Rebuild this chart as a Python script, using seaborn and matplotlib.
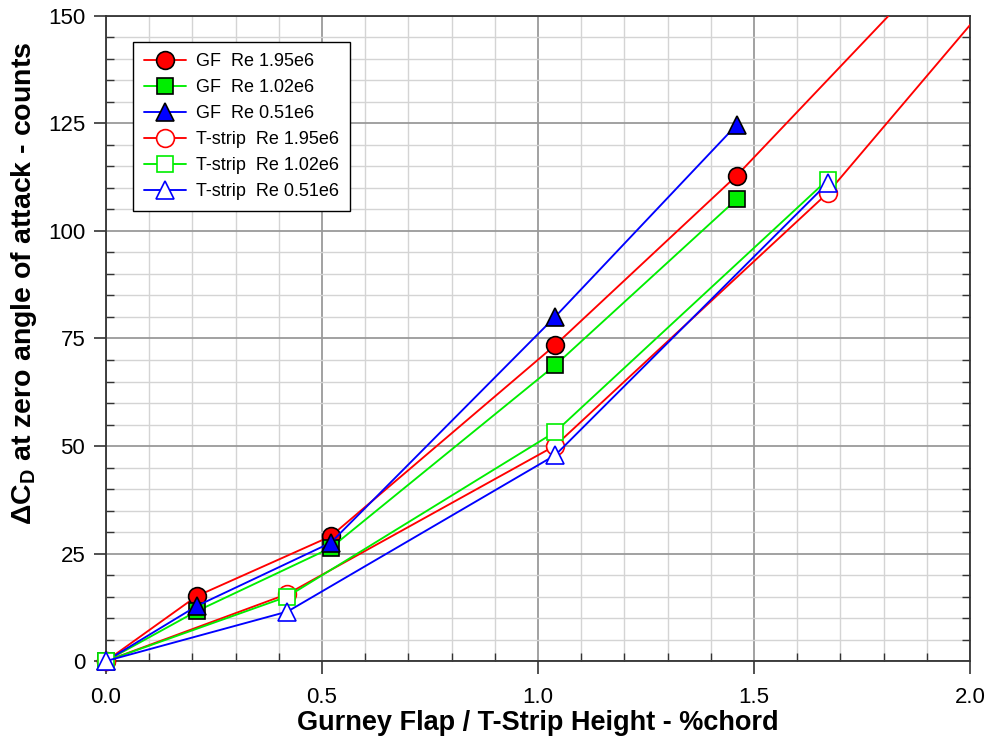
import numpy as np
import pandas as pd
import matplotlib
matplotlib.use("Agg")
import matplotlib.pyplot as plt
import seaborn as sns
from matplotlib.ticker import MultipleLocator, FormatStrFormatter

# Drag increment at zero angle of attack vs. device height
gf_height = [0.0, 0.21, 0.52, 1.04, 1.46]
ts_height = [0.0, 0.42, 1.04, 1.67]

gf_re195 = [0.0, 15.1, 29.0, 73.5, 112.9]
gf_re102 = [0.0, 11.6, 26.3, 68.8, 107.4]
gf_re051 = [0.0, 12.8, 27.5, 80.1, 124.7]

ts_re195 = [0.0, 15.6, 50.1, 108.8]
ts_re102 = [0.0, 15.0, 53.3, 111.9]
ts_re051 = [0.0, 11.5, 47.9, 111.1]

# Trend extensions of the Re 1.95e6 curves
gf_re195_ext_x = [1.46, 1.811]
gf_re195_ext_y = [112.9, 150.0]
ts_re195_ext_x = [1.67, 2.0]
ts_re195_ext_y = [108.8, 147.9]

labels = ["GF  Re 1.95e6", "GF  Re 1.02e6", "GF  Re 0.51e6",
          "T-strip  Re 1.95e6", "T-strip  Re 1.02e6", "T-strip  Re 0.51e6"]

sns.set_theme(style="white")
plt.rcParams["font.family"] = ["Liberation Sans", "DejaVu Sans"]
plt.rcParams["mathtext.fontset"] = "custom"
plt.rcParams["mathtext.rm"] = "Liberation Sans:bold"
plt.rcParams["mathtext.bf"] = "Liberation Sans:bold"
plt.rcParams["mathtext.it"] = "Liberation Sans:bold"
for key in ["text.color", "axes.labelcolor", "xtick.color", "ytick.color"]:
    plt.rcParams[key] = "black"

RED, GREEN, BLUE = "#ff0000", "#00ee00", "#0000ff"
LW = 1.35

fig = plt.figure(figsize=(9.92, 7.46), dpi=100)
ax = fig.add_axes([0.1069, 0.1139, 0.8710, 0.8647])

series = [
    (gf_height, gf_re195, RED, "o", RED, "black", 12.8, labels[0]),
    (gf_height, gf_re102, GREEN, "s", GREEN, "black", 11.8, labels[1]),
    (gf_height, gf_re051, BLUE, "^", BLUE, "black", 13.2, labels[2]),
    (ts_height, ts_re195, RED, "o", "white", RED, 12.8, labels[3]),
    (ts_height, ts_re102, GREEN, "s", "white", GREEN, 11.8, labels[4]),
    (ts_height, ts_re051, BLUE, "^", "white", BLUE, 13.2, labels[5]),
]

sns.lineplot(x=gf_re195_ext_x, y=gf_re195_ext_y, color=RED, lw=LW, ax=ax, zorder=3)
sns.lineplot(x=ts_re195_ext_x, y=ts_re195_ext_y, color=RED, lw=LW, ax=ax, zorder=3)

handles = []
for i, (xs, ys, col, mk, fc, ec, ms, lab) in enumerate(series):
    df = pd.DataFrame({"x": xs, "y": ys})
    sns.lineplot(data=df, x="x", y="y", color=col, lw=LW, marker=mk,
                 markersize=ms, markerfacecolor=fc, markeredgecolor=ec,
                 markeredgewidth=1.2, ax=ax, zorder=4 + i, clip_on=False)
    handles.append(ax.lines[-1])

ax.set_xlim(0, 2.0)
ax.set_ylim(0, 150)
ax.xaxis.set_major_locator(MultipleLocator(0.5))
ax.xaxis.set_minor_locator(MultipleLocator(0.1))
ax.yaxis.set_major_locator(MultipleLocator(25))
ax.yaxis.set_minor_locator(MultipleLocator(5))
ax.xaxis.set_major_formatter(FormatStrFormatter("%.1f"))

ax.grid(which="minor", color="#d4d4d4", lw=1.0, zorder=0)
ax.grid(which="major", color="#9a9a9a", lw=1.3, zorder=0)
ax.set_axisbelow(True)

for sp in ax.spines.values():
    sp.set_color("#333333")
    sp.set_linewidth(1.3)
    sp.set_visible(True)

ax.tick_params(which="major", direction="out", length=9, width=1.2,
               color="#333333", labelsize=16, pad=6,
               left=True, bottom=True, right=False, top=False)
ax.tick_params(which="minor", direction="in", length=6, width=1.0,
               color="#333333", left=True, bottom=True, right=True, top=False)
ax.tick_params(axis="x", which="major", pad=10)

ax.set_xlabel("Gurney Flap / T-Strip Height - %chord", fontsize=19.5,
              fontweight="bold", labelpad=1)
ax.set_ylabel(r"$\Delta$C$_\mathregular{D}$ at zero angle of attack - counts",
              fontsize=20.5, fontweight="bold")
ax.yaxis.set_label_coords(-0.078, 0.586)

leg = ax.legend(handles, labels, loc="upper left",
                bbox_to_anchor=(0.0313, 0.9597), borderaxespad=0,
                fontsize=13, frameon=True, fancybox=False, shadow=False,
                edgecolor="black", framealpha=1, handlelength=2.3,
                labelspacing=0.5, borderpad=0.62, handletextpad=0.55)
leg.get_frame().set_linewidth(1.0)

fig.savefig("out.png", dpi=100)
